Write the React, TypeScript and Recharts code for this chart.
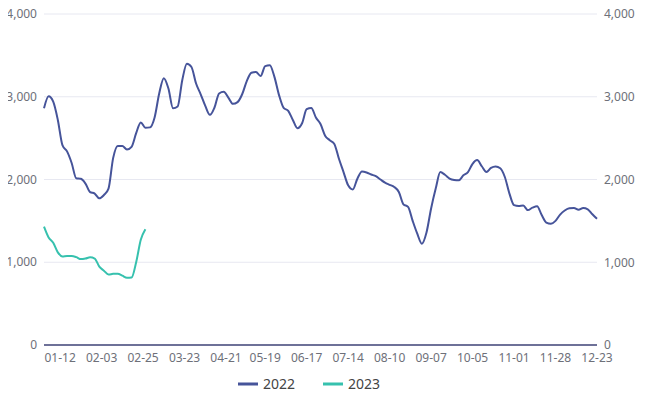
import React from "react";
import { LineChart, Line, XAxis, YAxis, CartesianGrid, Legend } from "recharts";

// x positions are trading-day indices; one reading every 2 days
const tickIdx = [7, 25, 43, 61, 79, 96, 114, 132, 150, 168, 186, 204, 222, 240];
const tickLabels = [
  "01-12", "02-03", "02-25", "03-23", "04-21", "05-19", "06-17",
  "07-14", "08-10", "09-07", "10-05", "11-01", "11-28", "12-23",
];
const yTicks = [0, 1000, 2000, 3000, 4000];

const s2022 = [
  2860, 3005, 2940, 2720, 2415, 2340, 2200, 2015, 2008, 1950,
  1848, 1830, 1772, 1812, 1890, 2258, 2405, 2405, 2362, 2395,
  2560, 2690, 2625, 2630, 2750, 3040, 3225, 3100, 2860, 2882,
  3200, 3400, 3360, 3160, 3030, 2890, 2781, 2870, 3040, 3060,
  2990, 2914, 2935, 3030, 3190, 3290, 3300, 3250, 3370, 3380,
  3240, 3020, 2865, 2830, 2720, 2620, 2680, 2850, 2865, 2750,
  2670, 2530, 2475, 2430, 2250, 2090, 1930, 1880, 2010, 2097,
  2085, 2060, 2040, 2000, 1962, 1936, 1910, 1850, 1700, 1670,
  1500, 1345, 1225, 1360, 1650, 1890, 2090, 2057, 2012, 1994,
  1990, 2050, 2090, 2190, 2235, 2160, 2090, 2140, 2157, 2135,
  2030, 1830, 1690, 1680, 1685, 1630, 1660, 1678, 1570, 1480,
  1465, 1500, 1576, 1625, 1652, 1655, 1634, 1655, 1640, 1580,
  1525,
];
const s2023 = [
  1430, 1300, 1235, 1120, 1070, 1075, 1075, 1062, 1038, 1045,
  1060, 1045, 948, 898, 852, 860, 862, 838, 812, 815,
  1000, 1272, 1400,
];

const C2022 = "#46549a";
const C2023 = "#36c1ae";

const rows = s2022.map((v, i) => ({ x: i * 2, y2022: v, y2023: s2023[i] }));

const fmt = (n: number) => new Intl.NumberFormat("en-US").format(n);
const font = "'Noto Sans', sans-serif";
const tickStyle = { fill: "#6e7079", fontSize: 12, fontFamily: font };

// left labels: right-aligned just left of the plot
function LeftTick(p: { y?: number; payload?: { value: number } }) {
  return (
    <text x={37} y={p.y} dy={4} textAnchor="end" {...tickStyle}>
      {fmt(p.payload?.value ?? 0)}
    </text>
  );
}

function LegendBox() {
  const items = [
    { name: "2022", color: C2022 },
    { name: "2023", color: C2023 },
  ];
  return (
    <div style={{ display: "flex", alignItems: "center", height: 22, paddingLeft: 238, fontFamily: font, fontSize: 14, lineHeight: "16px", color: "#444" }}>
      {items.map((it, i) => (
        <span key={it.name} style={{ display: "flex", alignItems: "center", marginLeft: i ? 28 : 0 }}>
          <svg width={20} height={4} style={{ marginRight: 5 }}>
            <rect width={20} height={3} y={0.5} fill={it.color} />
          </svg>
          {it.name}
        </span>
      ))}
    </div>
  );
}

export default function App() {
  return (
    <div style={{ margin: -8, width: 645, height: 397, background: "#fff" }}>
      <LineChart width={645} height={397} data={rows} margin={{ top: 14, right: 0, bottom: 0, left: 0 }}>
        <CartesianGrid yAxisId="left" stroke="#e7e8f1" vertical={false} />
        <XAxis
          type="number"
          dataKey="x"
          domain={[0, 240]}
          ticks={tickIdx}
          interval={0}
          tickFormatter={(v) => tickLabels[tickIdx.indexOf(v as number)]}
          axisLine={{ stroke: "#6e7198", strokeWidth: 2 }}
          tickLine={false}
          height={30}
          tick={tickStyle}
        />
        <YAxis
          yAxisId="left"
          domain={[0, 4000]}
          ticks={yTicks}
          width={44}
          axisLine={false}
          tickLine={false}
          tick={<LeftTick />}
        />
        <YAxis
          yAxisId="right"
          orientation="right"
          domain={[0, 4000]}
          ticks={yTicks}
          width={48}
          axisLine={false}
          tickLine={false}
          tickMargin={1}
          tickFormatter={fmt}
          tick={tickStyle}
        />
        <Legend verticalAlign="bottom" wrapperStyle={{ top: 373, left: 0 }} content={() => <LegendBox />} />
        <Line yAxisId="left" type="monotone" dataKey="y2022" stroke={C2022} strokeWidth={2} dot={false} isAnimationActive={false} />
        <Line yAxisId="right" type="monotone" dataKey="y2023" stroke={C2023} strokeWidth={2} dot={false} isAnimationActive={false} />
      </LineChart>
    </div>
  );
}
